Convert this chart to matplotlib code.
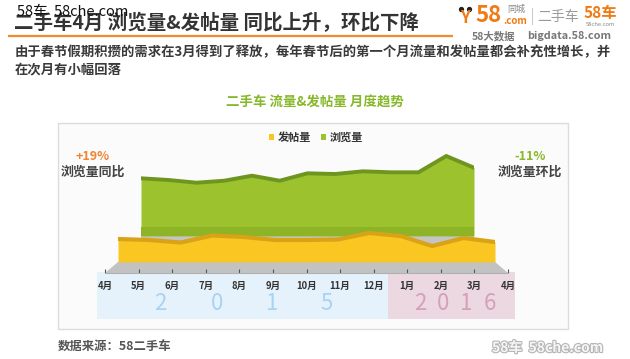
import matplotlib
import matplotlib.pyplot as plt
import numpy as np
from matplotlib.patches import Rectangle, Polygon, Patch
import matplotlib.patheffects as pe

matplotlib.use("agg")

plt.rcParams["font.family"] = ["Noto Sans CJK SC", "DejaVu Sans"]

# data (relative index units)
months = ["4月", "5月", "6月", "7月", "8月", "9月", "10月", "11月", "12月",
          "1月", "2月", "3月", "4月"]
browse = [57.7, 56.0, 53.3, 55.3, 60.3, 55.3, 62.7, 62.0, 64.7, 63.7, 63.7, 80.0, 68.3]
posts = [23.0, 22.0, 19.5, 26.5, 25.0, 22.0, 22.0, 22.5, 29.0, 26.0, 16.0, 24.0, 20.0]
yoy_label = "+19%"
mom_label = "-11%"

title = "二手车4月 浏览量&发帖量 同比上升，环比下降"
para1 = "由于春节假期积攒的需求在3月得到了释放，每年春节后的第一个月流量和发帖量都会补充性增长，并"
para2 = "在次月有小幅回落"
subtitle = "二手车 流量&发帖量 月度趋势"

W, H = 630, 359
fig = plt.figure(figsize=(W / 100, H / 100), dpi=100)
fig.patch.set_facecolor("white")


def box(left, top, width, height):
    return [left / W, 1 - (top + height) / H, width / W, height / H]


# background / decoration axes in pixel coordinates
bg = fig.add_axes([0, 0, 1, 1], zorder=0)
bg.set_xlim(0, W)
bg.set_ylim(H, 0)
bg.axis("off")

# header
bg.text(14, 23, title, fontsize=14, fontweight="bold", color="#333333", va="center")
bg.text(17, 12, "58车  58che.com", fontsize=10.5, color="#111111", va="center")
bg.plot([8, 453], [36, 36], color="#f28a30", lw=1.6, solid_capstyle="butt")
bg.text(15, 52, para1, fontsize=9.6, fontweight="bold", color="#3a3a3a", va="center")
bg.text(15, 69, para2, fontsize=9.6, fontweight="bold", color="#3a3a3a", va="center")

# logo block
orange = "#f07a14"
bg.plot([461, 469], [9, 9], "o", color="#222222", ms=2.8)
bg.text(465, 18, "Y", fontsize=12, fontweight="bold", color=orange, ha="center", va="center")
bg.text(475, 16, "58", fontsize=16, fontweight="bold", color=orange, va="center")
bg.text(503, 21, ".com", fontsize=7, fontweight="bold", color=orange, va="center")
bg.text(507, 9, "同城", fontsize=6.5, color="#888888", va="center")
bg.plot([532, 532], [8, 24], color="#cccccc", lw=0.8)
bg.text(537, 17, "二手车", fontsize=10, color="#9a9a9a", va="center")
bg.text(584, 13, "58车", fontsize=11, fontweight="bold", color=orange, va="center")
bg.text(586, 24, "58che.com", fontsize=4.2, color="#888888", va="center")
bg.text(472, 36, "58大数据", fontsize=7.5, fontweight="bold", color="#777777", va="center")
bg.text(527, 36, "bigdata.58.com", fontsize=7.8, fontweight="bold", color="#777777", va="center")

# panel
bg.add_patch(Rectangle((58, 123), 510, 206, facecolor="#fbfbfb", edgecolor="#dcdcdc", lw=1))
bg.text(315, 103, subtitle, fontsize=9.7, fontweight="bold", color="#86b82a",
        ha="center", va="center")

# year bands
bg.add_patch(Rectangle((97, 272), 291, 47, facecolor="#e5f2fc", edgecolor="none"))
bg.add_patch(Rectangle((388, 272), 127, 47, facecolor="#ecd8e1", edgecolor="none"))
for ch, xx in zip("2015", [160, 217, 272, 327]):
    bg.text(xx, 304, ch, fontsize=16, color="#a9d3f2", ha="center", va="center")
for ch, xx in zip("2016", [420, 443, 466, 490]):
    bg.text(xx, 304, ch, fontsize=16, color="#d6a0b9", ha="center", va="center")

# floor of the 3D chart
bg.add_patch(Polygon([(118, 262), (495, 262), (508, 273), (105, 273)],
                     closed=True, facecolor="#c2c2c2", edgecolor="none"))

# side annotations
bg.text(93, 157, yoy_label, fontsize=9, fontweight="bold", color="#f08432", ha="center", va="center")
bg.text(93, 172, "浏览量同比", fontsize=9.3, fontweight="bold", color="#444444", ha="center", va="center")
bg.text(530, 157, mom_label, fontsize=9, fontweight="bold", color="#8ab82a", ha="center", va="center")
bg.text(530, 172, "浏览量环比", fontsize=9.3, fontweight="bold", color="#444444", ha="center", va="center")

# footer
bg.text(58, 347, "数据来源：58二手车", fontsize=8.9, fontweight="bold", color="#555555", va="center")
bg.text(492, 348, "58车  58che.com", fontsize=10, fontweight="bold", color="#f6f6f6", va="center",
        path_effects=[pe.withStroke(linewidth=1.6, foreground="#b5b5b5")])

x = np.arange(len(months))

# back series: browse volume (green), 1 unit = 1 px
axg = fig.add_axes(box(141, 142, 333, 120), zorder=2)
axg.set_xlim(0, len(months) - 1)
axg.set_ylim(-26, 94)
axg.axis("off")
axg.fill_between(x, -26, 0, color="#c4c4c4", lw=0)
axg.fill_between(x, 0, browse, color="#9cc22e", lw=0)
axg.fill_between(x, 0, 9, color="#8db326", lw=0)
axg.plot(x, browse, color="#6e951f", lw=2.8, solid_joinstyle="miter")

# front series: posts (yellow)
axy = fig.add_axes(box(118, 162, 377, 100), zorder=3)
axy.set_xlim(0, len(months) - 1)
axy.set_ylim(0, 100)
axy.axis("off")
axy.fill_between(x, 0, posts, color="#f9c622", lw=0)
axy.plot(x, posts, color="#d9a318", lw=3, solid_joinstyle="miter")

# month axis
axx = fig.add_axes(box(105, 272, 403, 1), zorder=4)
axx.set_xlim(0, len(months) - 1)
axx.patch.set_alpha(0)
for s in ["left", "right", "top"]:
    axx.spines[s].set_visible(False)
axx.spines["bottom"].set_color("#b0b0b0")
axx.set_yticks([])
axx.set_xticks(x)
axx.set_xticklabels(months)
axx.tick_params(axis="x", direction="in", length=3, width=0.8, color="#555555",
                labelsize=6.8, labelcolor="#333333", pad=6)
for lab in axx.get_xticklabels():
    lab.set_fontweight("bold")

# legend
handles = [Patch(facecolor="#f9c622", label="发帖量"), Patch(facecolor="#9cc22e", label="浏览量")]
leg = fig.legend(handles=handles, loc="center", bbox_to_anchor=(316 / W, 1 - 137 / H), ncol=2,
                 frameon=False, fontsize=8, handlelength=0.45, handleheight=0.45,
                 handletextpad=0.3, columnspacing=0.9)
for t in leg.get_texts():
    t.set_fontweight("bold")
    t.set_color("#333333")

fig.savefig("out.png", dpi=100)
